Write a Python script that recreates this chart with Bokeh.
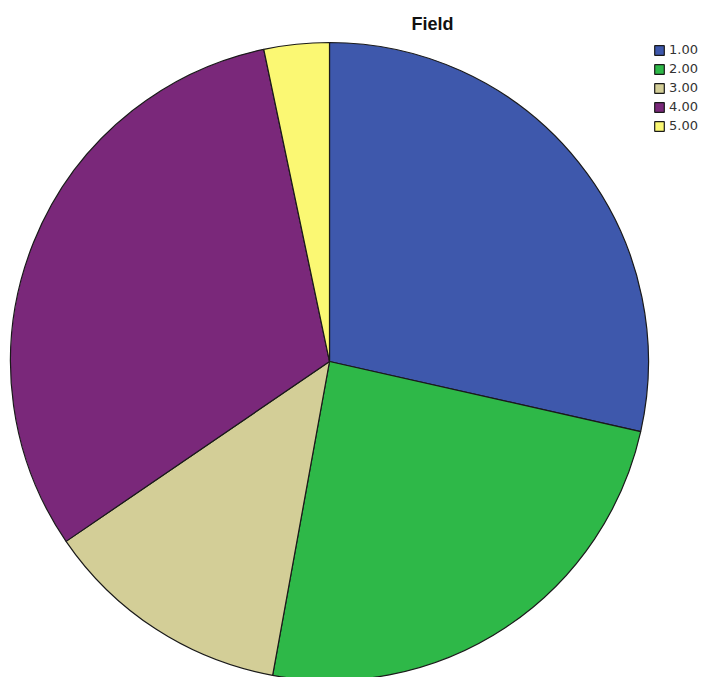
import math
from bokeh.plotting import figure
from bokeh.models import Range1d, Legend, LegendItem, Label, ColumnDataSource
from bokeh.embed import file_html
from bokeh.resources import INLINE

categories = ["1.00", "2.00", "3.00", "4.00", "5.00"]
values = [28.5, 24.3, 12.6, 31.2, 3.3]
colors = ["#3E58AC", "#2EB848", "#D3CE97", "#7A287A", "#FBF873"]

W, H = 705, 677
p = figure(width=W, height=H, output_backend="svg", toolbar_location=None,
           x_range=Range1d(0, W), y_range=Range1d(0, H),
           min_border=0, min_border_left=0, min_border_right=0,
           min_border_top=0, min_border_bottom=0)
p.axis.visible = False
p.grid.visible = False
p.outline_line_color = None
p.background_fill_color = "white"
p.border_fill_color = "white"

total = sum(values)
starts, ends = [], []
cum = 0.0
for v in values:
    starts.append(math.pi / 2 - cum / total * 2 * math.pi)
    cum += v
    ends.append(math.pi / 2 - cum / total * 2 * math.pi)

cx, cy, r = 329, H - 361, 319
items = []
for i, cat in enumerate(categories):
    src = ColumnDataSource(dict(x=[cx], y=[cy], s=[starts[i]], e=[ends[i]]))
    rr = p.wedge(x="x", y="y", radius=r, start_angle="s", end_angle="e",
                 direction="clock", source=src, fill_color=colors[i],
                 line_color="#1a1a1a", line_width=1.2)
    items.append(LegendItem(label=cat, renderers=[rr]))

legend = Legend(items=items, location=(653, H - 133), orientation="vertical",
                glyph_width=12, glyph_height=12, label_text_font="DejaVu Sans",
                label_text_font_size="13px", label_standoff=4, spacing=4,
                padding=0, margin=0, border_line_color=None,
                background_fill_alpha=0, label_height=12,
                label_text_color="#333333")
p.add_layout(legend)

p.add_layout(Label(x=432, y=H - 23, text="Field", text_align="center",
                   text_baseline="middle", text_font="Liberation Sans",
                   text_font_size="18px", text_font_style="bold",
                   text_color="#111111"))

open("out.html", "w").write(file_html(p, INLINE))
